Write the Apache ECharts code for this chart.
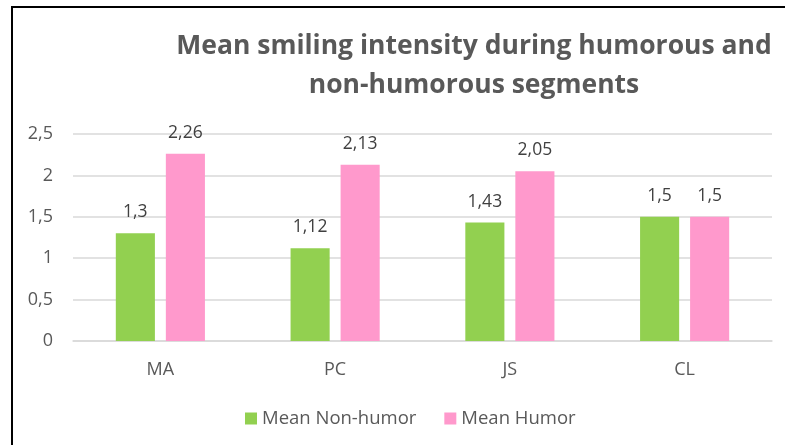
<!DOCTYPE html>
<html>
<head>
<meta charset="utf-8">
<script src="https://cdn.jsdelivr.net/npm/echarts@6/dist/echarts.min.js"></script>
<style>
  html, body { margin: 0; padding: 0; background: #fff; overflow: hidden; }
  #frame { position: absolute; left: 11px; top: 6px; width: 800px; height: 460px; border-left: 2px solid #000; border-top: 2px solid #000; }
  #chart { position: absolute; left: 0; top: 0; width: 785px; height: 445px; }
</style>
</head>
<body>
<div id="frame"></div>
<div id="chart"></div>
<script>
'use strict';

var categories = ['MA', 'PC', 'JS', 'CL'];
var nonHumor = [1.3, 1.12, 1.43, 1.5];
var humor = [2.26, 2.13, 2.05, 1.5];

var font = '"Open Sans", sans-serif';

// Excel style decimal comma
function comma(v) {
    return String(v).replace('.', ',');
}

function barSeries(name, data, color) {
    return {
        name: name,
        type: 'bar',
        data: data,
        barGap: '28%',
        barCategoryGap: '49%',
        itemStyle: { color: color },
        label: {
            show: true,
            position: 'top',
            distance: 12,
            color: '#404040',
            fontFamily: font,
            fontSize: 17.5,
            formatter: function (p) { return comma(p.value); }
        }
    };
}

var chart = echarts.init(document.getElementById('chart'), null, { renderer: 'canvas' });
chart.setOption({
    backgroundColor: 'transparent',
    animation: false,
    title: {
        text: 'Mean smiling intensity during humorous and\nnon-humorous segments',
        left: 469,
        top: 22,
        textAlign: 'center',
        textStyle: {
            color: '#595959',
            fontFamily: font,
            fontWeight: 'bold',
            fontSize: 26.5,
            lineHeight: 39
        }
    },
    legend: {
        bottom: 12,
        left: 240,
        itemWidth: 12,
        itemHeight: 12,
        itemGap: 28,
        icon: 'rect',
        textStyle: { color: '#595959', fontFamily: font, fontSize: 18.5 },
        data: ['Mean Non-humor', 'Mean Humor']
    },
    grid: { left: 73, right: 13, top: 134, bottom: 104, containLabel: false },
    xAxis: {
        type: 'category',
        data: categories,
        axisLine: { lineStyle: { color: '#D9D9D9', width: 1.5 } },
        axisTick: { show: false },
        axisLabel: { color: '#595959', fontFamily: font, fontSize: 18, margin: 20 }
    },
    yAxis: {
        type: 'value',
        min: 0,
        max: 2.5,
        interval: 0.5,
        axisLine: { show: false },
        axisTick: { show: false },
        splitLine: { lineStyle: { color: '#D9D9D9', width: 1.5 } },
        axisLabel: {
            color: '#595959',
            fontFamily: font,
            fontSize: 18,
            margin: 20,
            formatter: function (v) { return comma(v); }
        }
    },
    series: [
        barSeries('Mean Non-humor', nonHumor, '#92D050'),
        barSeries('Mean Humor', humor, '#FF99CC')
    ]
});
</script>
</body>
</html>
